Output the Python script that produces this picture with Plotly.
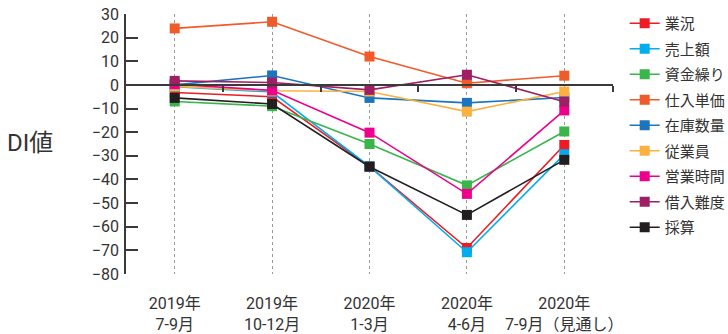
import plotly.graph_objects as go

# Quarter labels (x axis)
categories = [
    "2019年<br>7-9月",
    "2019年<br>10-12月",
    "2020年<br>1-3月",
    "2020年<br>4-6月",
    "2020年<br>7-9月（見通し）",
]

# DI values per indicator
gyoukyou = [-3.2, -5.0, -34.5, -69.0, -25.4]      # 業況
uriage = [-0.8, -3.0, -34.5, -70.8, -29.4]        # 売上額
shikinguri = [-7.0, -9.0, -25.0, -42.5, -19.7]    # 資金繰り
shiire = [23.9, 26.7, 12.0, 0.7, 3.9]             # 仕入単価
zaiko = [0.0, 4.0, -5.5, -7.6, -5.3]              # 在庫数量
juugyouin = [-0.6, -2.5, -2.8, -11.3, -2.8]       # 従業員
eigyou = [0.3, -2.3, -20.2, -46.1, -10.8]         # 営業時間
kariire = [1.7, 1.0, -2.1, 4.3, -7.1]             # 借入難度
saisan = [-5.5, -8.1, -34.6, -55.0, -31.7]        # 採算

series_names = ["業況", "売上額", "資金繰り", "仕入単価", "在庫数量",
                "従業員", "営業時間", "借入難度", "採算"]
series_values = [gyoukyou, uriage, shikinguri, shiire, zaiko,
                 juugyouin, eigyou, kariire, saisan]
series_colors = ["#ED1C24", "#00AEEF", "#39B54A", "#F15A29", "#1B75BC",
                 "#FBB040", "#EC008C", "#9E1F63", "#231F20"]

y_ticks = [30, 20, 10, 0, -10, -20, -30, -40, -50, -60, -70, -80]

FONT = "Roboto, 'Noto Sans CJK JP', sans-serif"
TEXT = "#333333"
AXIS = "#3a3a3a"

fig = go.Figure()
for name, vals, col in zip(series_names, series_values, series_colors):
    fig.add_trace(go.Scatter(
        x=categories, y=vals, name=name, mode="lines+markers",
        line=dict(color=col, width=1.6),
        marker=dict(symbol="square", size=10, color=col),
        legendgroup=name,
    ))

fig.update_layout(
    width=728, height=334,
    margin=dict(l=126, r=115, t=14, b=60, autoexpand=False),
    paper_bgcolor="white", plot_bgcolor="white",
    font=dict(family=FONT, size=16, color=TEXT),
    showlegend=True,
    legend=dict(
        x=1.024, xanchor="left", y=0.571, yanchor="middle",
        traceorder="grouped", tracegroupgap=3,
        font=dict(family=FONT, size=15, color=TEXT),
        bgcolor="rgba(0,0,0,0)", borderwidth=0,
    ),
    xaxis=dict(
        type="category", range=[-0.5, 4.5], automargin=False,
        showline=False, zeroline=False,
        showgrid=True, gridcolor="#9a9a9a", griddash="dot", gridwidth=1,
        ticks="", ticklabelstandoff=18,
        tickfont=dict(family=FONT, size=16, color=TEXT),
    ),
    # axis line along y = 0 with boundary ticks
    xaxis2=dict(
        overlaying="x", anchor="free", position=80 / 110, automargin=False,
        range=[-0.5, 4.5], tickvals=[0.5, 1.5, 2.5, 3.5, 4.5],
        showticklabels=False, showgrid=False, zeroline=False,
        showline=True, linecolor=AXIS, linewidth=1.6,
        ticks="outside", ticklen=6, tickwidth=1.6, tickcolor=AXIS,
    ),
    yaxis=dict(
        range=[-80, 30], tickvals=y_ticks, automargin=False,
        showgrid=False, zeroline=False,
        showline=True, linecolor=AXIS, linewidth=1.6,
        ticks="inside", ticklen=12, tickwidth=1.6, tickcolor=AXIS,
        ticklabelstandoff=2,
        tickfont=dict(family=FONT, size=16, color=TEXT),
    ),
    annotations=[dict(
        text="DI値", xref="paper", yref="paper",
        x=-0.2485, y=0.505, xanchor="left", yanchor="middle",
        showarrow=False, font=dict(family=FONT, size=24, color=TEXT),
    )],
)

# invisible trace so the y = 0 axis is rendered
fig.add_trace(go.Scatter(x=[0.5], y=[None], xaxis="x2", showlegend=False,
                         hoverinfo="skip", mode="markers"))

fig.write_html("out.html")
